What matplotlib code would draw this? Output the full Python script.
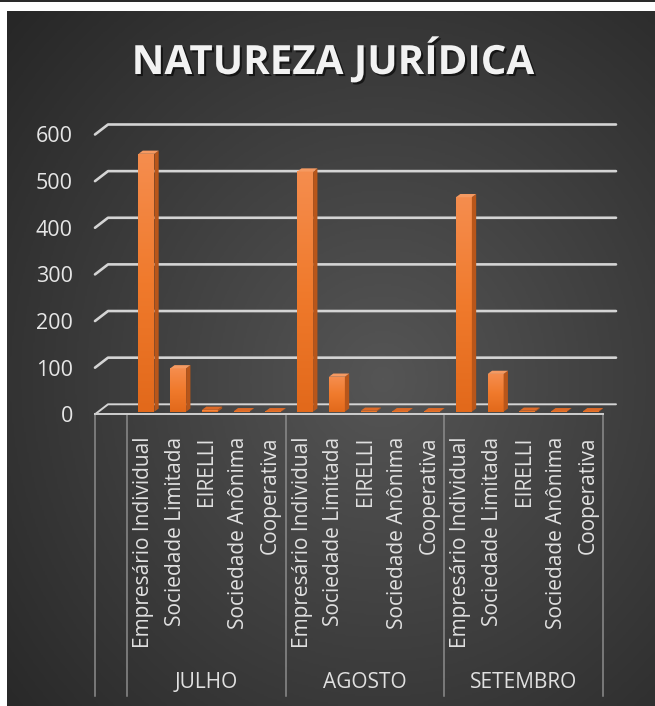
import numpy as np
import matplotlib
matplotlib.use("Agg")
import matplotlib.pyplot as plt
from matplotlib.patches import Polygon
from matplotlib.lines import Line2D
from matplotlib.colors import LinearSegmentedColormap
from matplotlib import patheffects as pe

W, H = 655, 706

months = ["JULHO", "AGOSTO", "SETEMBRO"]
categories = ["Empresário Individual", "Sociedade Limitada", "EIRELLI",
              "Sociedade Anônima", "Cooperativa"]
empresario = [553, 515, 460]
limitada = [93, 75, 81]
eirelli = [4, 2, 2]
anonima = [1, 1, 1]
cooperativa = [1, 1, 1]
yticks = [0, 100, 200, 300, 400, 500, 600]

plt.rcParams["font.family"] = ["Open Sans", "DejaVu Sans"]

fig = plt.figure(figsize=(W / 100, H / 100), dpi=100)
fig.patch.set_facecolor("white")

# dark panel with radial gradient
bg = fig.add_axes([7 / W, 0, (W - 7) / W, (H - 11) / H])
yy, xx = np.mgrid[0:1:400j, 0:1:400j]
r = np.sqrt((xx - 0.58) ** 2 + (yy - 0.53) ** 2)
bg_cmap = LinearSegmentedColormap.from_list("bg", ["#555555", "#3e3e3e", "#272727"])
bg.imshow(np.clip(r / 0.78, 0, 1), cmap=bg_cmap, vmin=0, vmax=1,
          aspect="auto", extent=[0, 1, 0, 1], interpolation="bilinear")
bg.axis("off")

fig.add_artist(Line2D([0, 1], [1 - 1 / H] * 2, color="black", lw=1.2))

# title
fig.text(333 / W, 1 - 74 / H, "NATUREZA JURÍDICA", ha="center", va="baseline",
         fontsize=29, fontweight="bold", color="#f2f2f2",
         path_effects=[pe.withSimplePatchShadow(offset=(1.5, -1.5), shadow_rgbFace="black", alpha=0.6)])

# plot area (front plane of the floor)
ax_l, ax_r = 95, 603
ax_b, ax_t = 414.3, 134.5
ax = fig.add_axes([ax_l / W, 1 - ax_b / H, (ax_r - ax_l) / W, (ax_b - ax_t) / H])
ax.patch.set_alpha(0)
nslots = 16
ax.set_xlim(0, nslots)
ax.set_ylim(0, 600)
px_x = (ax_r - ax_l) / nslots
px_y = (ax_b - ax_t) / 600

bx, by = 13 / px_x, 10 / px_y   # depth of the walls
for v in yticks:
    lw = 1.9 if v > 0 else 1.4
    ax.plot([0, bx, nslots + bx], [v, v + by, v + by], color="#d4d4d4", lw=lw,
            clip_on=False, zorder=1, solid_capstyle="round")
ax.plot([0, nslots], [0, 0], color="#cfcfcf", lw=1.4, clip_on=False, zorder=6)

ax.set_yticks(yticks)
ax.set_yticklabels([str(v) for v in yticks])
ax.tick_params(axis="y", length=0, pad=16, labelsize=15.5, labelcolor="#e6e6e6")
ax.set_xticks([])
for s in ax.spines.values():
    s.set_visible(False)

# category axis separators and labels
y_bottom = -(696 - ax_b) / px_y
for xs in [0, 1, 6, 11, 16]:
    ax.plot([xs, xs], [0, y_bottom], color="#8c8c8c", lw=1.1, clip_on=False, zorder=2)

y_lab = -(437 - ax_b) / px_y
y_month = -(683 - ax_b) / px_y
for m, month in enumerate(months):
    for c, cat in enumerate(categories):
        slot = 1 + 5 * m + c
        ax.text(slot + 0.52, y_lab, cat, rotation=90, ha="center", va="top",
                fontsize=15, color="#e0e0e0")
    ax.text(1 + 5 * m + 2.5, y_month, month, ha="center", va="center",
            fontsize=15, color="#e0e0e0")

# 3D-looking bars
series = [empresario, limitada, eirelli, anonima, cooperativa]
front_cmap = LinearSegmentedColormap.from_list("front", ["#e2691b", "#f07a2c", "#f58d4e"])
grad = np.linspace(0, 1, 100).reshape(-1, 1)
base = 2.6 / px_y
dx, dy = 4.3 / px_x, 3.2 / px_y
for m in range(len(months)):
    for c, vals in enumerate(series):
        v = vals[m]
        slot = 1 + 5 * m + c
        x0, x1 = slot + 0.37, slot + 0.87
        top = base + v
        ax.imshow(grad, extent=[x0, x1, base, top], origin="lower", cmap=front_cmap,
                  aspect="auto", interpolation="bilinear", zorder=4)
        ax.add_patch(Polygon([(x1, base), (x1 + dx, base + dy), (x1 + dx, top + dy), (x1, top)],
                             closed=True, facecolor="#b8561a", edgecolor="none", zorder=4))
        ax.add_patch(Polygon([(x0, top), (x1, top), (x1 + dx, top + dy), (x0 + dx, top + dy)],
                             closed=True, facecolor="#f59a62" if v > 20 else "#dc6a28",
                             edgecolor="none", zorder=5))

ax.set_xlim(0, nslots)
ax.set_ylim(0, 600)

fig.savefig("out.png", dpi=100)
